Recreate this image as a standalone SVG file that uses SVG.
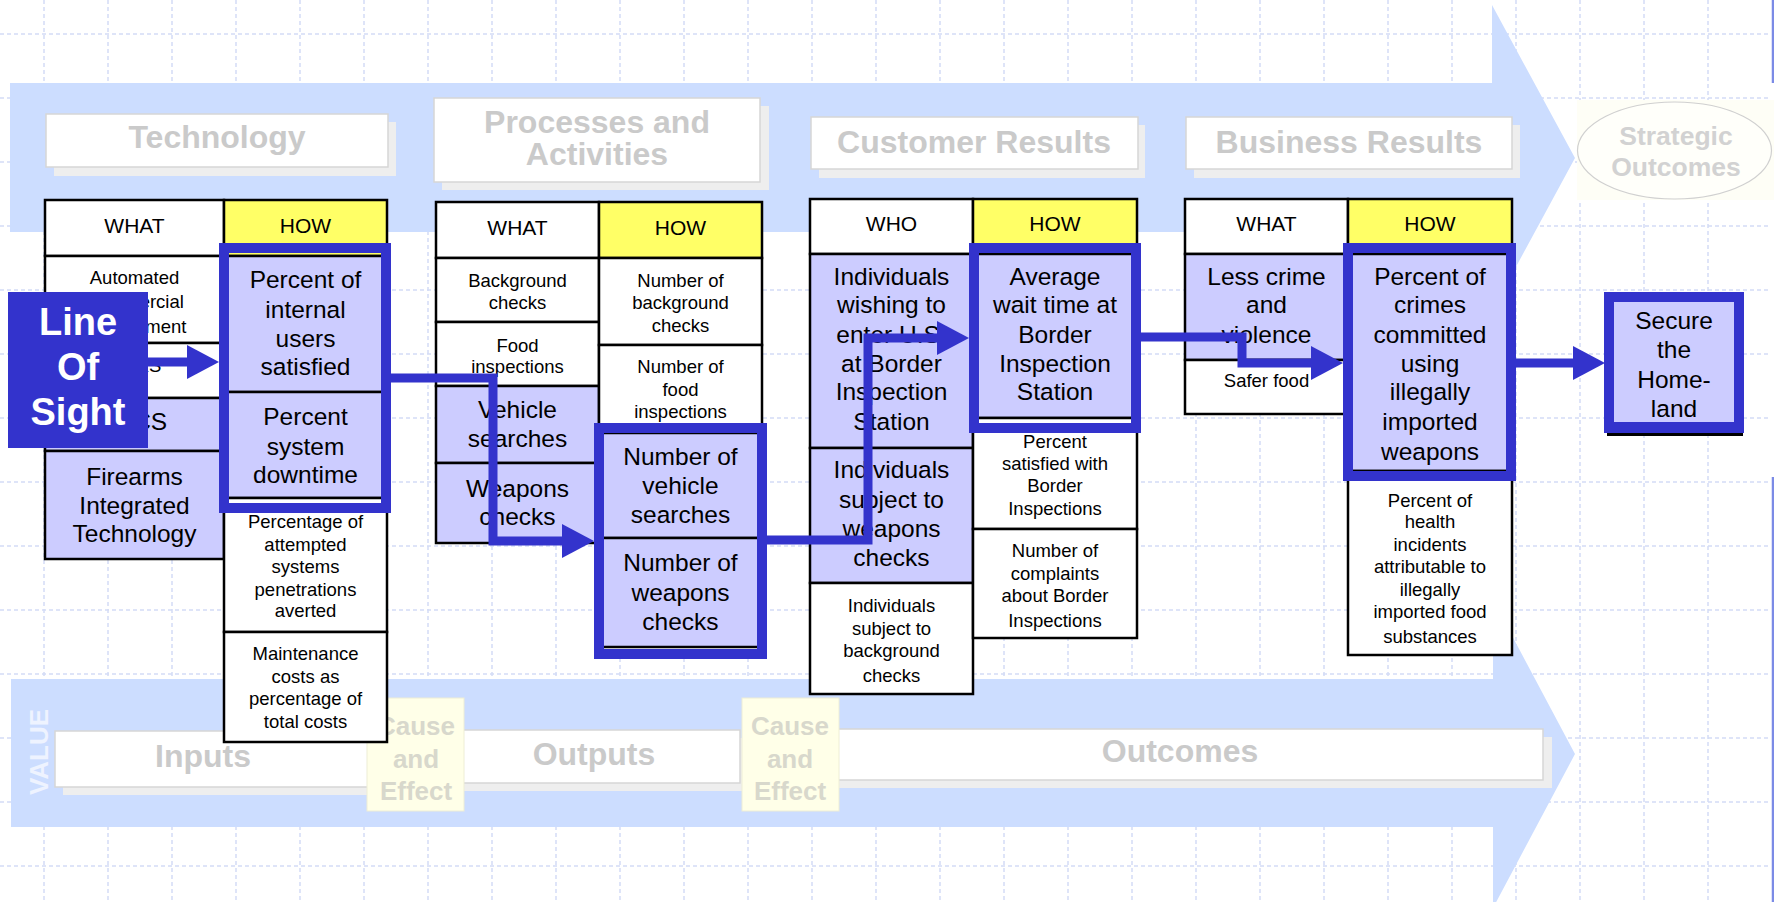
<svg xmlns="http://www.w3.org/2000/svg" width="1774" height="902" viewBox="0 0 1774 902">
<defs>
<style>
text{font-family:"Liberation Sans",Arial,sans-serif;text-anchor:middle}
.grid{stroke:#D4DCF6;stroke-width:1.5;stroke-dasharray:4 3;fill:none}
.band{fill:#CCDDFF}
.hbox{fill:#fff;stroke:#D6D6D6;stroke-width:1.5}
.hshadow{fill:#EEEEEE}
.htxt{font-size:32px;font-weight:bold;fill:#CACACA}
.ce{fill:#FFFFE8;stroke:#EEEED6;stroke-width:1}
.cetxt{font-size:26px;font-weight:bold;fill:#D8D8CC}
.cell{fill:#fff;stroke:#000;stroke-width:2.5}
.lav{fill:#CCCCFF;stroke:#000;stroke-width:2.5}
.yel{fill:#FFFF66;stroke:#000;stroke-width:2.5}
.hdr{font-size:21px;fill:#000}
.big{font-size:24.5px;fill:#000}
.sm{font-size:18.5px;fill:#000}
.hl{fill:none;stroke:#3333CC;stroke-width:10}
.conn{fill:none;stroke:#3333CC;stroke-width:9}
.los{fill:#fff;font-size:38px;font-weight:bold}
</style>
<marker id="ah" markerUnits="userSpaceOnUse" markerWidth="32" markerHeight="34" refX="0" refY="17" orient="auto" viewBox="0 0 32 34"><path d="M0,0 L32,17 L0,34 Z" fill="#3333CC"/></marker>
</defs>
<rect width="1774" height="902" fill="#fff"/>
<g id="grid">
<path class="grid" d="M44,0V902M108,0V902M172,0V902M236,0V902M300,0V902M364,0V902M428,0V902M492,0V902M556,0V902M620,0V902M684,0V902M748,0V902M812,0V902M876,0V902M940,0V902M1004,0V902M1068,0V902M1132,0V902M1196,0V902M1260,0V902M1324,0V902M1388,0V902M1452,0V902M1516,0V902M1580,0V902M1644,0V902M1708,0V902M0,34H1770M0,98H1770M0,162H1770M0,226H1770M0,290H1770M0,354H1770M0,418H1770M0,482H1770M0,546H1770M0,610H1770M0,674H1770M0,738H1770M0,802H1770M0,866H1770"/>
<path d="M1773,0V83M1773,477V902" stroke="#7B8BE6" stroke-width="2.5" fill="none"/>
</g>
<g id="bands">
<path class="band" d="M10,83 H1492 V5 L1575,158 L1492,311 V232 H10 Z"/>
<path class="band" d="M11,679 H1493 V600 L1575,754 L1493,908 V827 H11 Z"/>
</g>
<g id="heading-technology">
<rect class="hshadow" x="54" y="122" width="342" height="54"/>
<rect class="hbox" x="46" y="114" width="342" height="53"/>
<text class="htxt" x="217" y="148">Technology</text>
</g>
<g id="heading-processes">
<rect class="hshadow" x="442" y="106" width="327" height="84"/>
<rect class="hbox" x="434" y="98" width="326" height="84"/>
<text class="htxt" x="597" y="133">Processes and</text>
<text class="htxt" x="597" y="165">Activities</text>
</g>
<g id="heading-customer">
<rect class="hshadow" x="819" y="125" width="326" height="53"/>
<rect class="hbox" x="811" y="117" width="327" height="52"/>
<text class="htxt" x="974" y="153">Customer Results</text>
</g>
<g id="heading-business">
<rect class="hshadow" x="1194" y="125" width="326" height="53"/>
<rect class="hbox" x="1186" y="117" width="326" height="52"/>
<text class="htxt" x="1349" y="153">Business Results</text>
</g>
<g id="heading-strategic">
<rect x="1577" y="100" width="197" height="100" fill="#FEFEF6"/>
<ellipse cx="1674.5" cy="150.5" rx="97" ry="48.5" fill="#FFFFFA" stroke="#D0D0D0" stroke-width="1.2"/>
<text x="1676" y="145" font-size="26.5" font-weight="bold" fill="#D2D2D2">Strategic</text>
<text x="1676" y="176" font-size="26.5" font-weight="bold" fill="#D2D2D2">Outcomes</text>
</g>
<g id="band-inputs">
<rect class="hshadow" x="63" y="739" width="320" height="56"/>
<rect class="hbox" x="55" y="731" width="320" height="56"/>
<text class="htxt" x="203" y="767">Inputs</text>
</g>
<g id="band-outputs">
<rect class="hshadow" x="458" y="738" width="290" height="53"/>
<rect class="hbox" x="450" y="730" width="290" height="53"/>
<text class="htxt" x="594" y="765">Outputs</text>
</g>
<g id="band-outcomes">
<rect class="hshadow" x="826" y="737" width="726" height="51"/>
<rect class="hbox" x="818" y="729" width="725" height="51"/>
<text class="htxt" x="1180" y="762">Outcomes</text>
</g>
<g id="cause-effect-1">
<rect class="ce" x="367" y="698" width="97" height="113"/>
<text class="cetxt" x="416" y="735">Cause</text>
<text class="cetxt" x="416" y="768">and</text>
<text class="cetxt" x="416" y="800">Effect</text>
</g>
<g id="cause-effect-2">
<rect class="ce" x="742" y="698" width="97" height="113"/>
<text class="cetxt" x="790" y="735">Cause</text>
<text class="cetxt" x="790" y="768">and</text>
<text class="cetxt" x="790" y="800">Effect</text>
</g>
<g id="value-label">
<text x="39" y="761" font-size="26" font-weight="bold" fill="#EEF3FF" transform="rotate(-90 39 752)">VALUE</text>
</g>
<g id="table-technology">
<rect class="cell" x="45" y="200" width="179" height="56"/>
<rect class="yel" x="224" y="200" width="163" height="56"/>
<text class="hdr" x="134.5" y="233">WHAT</text>
<text class="hdr" x="305.5" y="233">HOW</text>
<rect class="cell" x="45" y="256" width="179" height="87"/>
<rect class="cell" x="45" y="343" width="179" height="55"/>
<rect class="lav" x="45" y="398" width="179" height="53"/>
<rect class="lav" x="45" y="451" width="179" height="108"/>
<text class="sm" x="134.5" y="284">Automated</text>
<text class="sm" x="134.5" y="308">Commercial</text>
<text class="sm" x="134.5" y="333">Environment</text>
<text class="sm" x="134.5" y="372">LINKS</text>
<text class="big" x="134.5" y="430">TECS</text>
<text class="big" x="134.5" y="485">Firearms</text>
<text class="big" x="134.5" y="514">Integrated</text>
<text class="big" x="134.5" y="542">Technology</text>
<rect class="lav" x="224" y="256" width="163" height="136"/>
<rect class="lav" x="224" y="392" width="163" height="106"/>
<rect class="cell" x="224" y="498" width="163" height="134"/>
<rect class="cell" x="224" y="632" width="163" height="110"/>
<text class="big" x="305.5" y="288">Percent of</text>
<text class="big" x="305.5" y="318">internal</text>
<text class="big" x="305.5" y="347">users</text>
<text class="big" x="305.5" y="375">satisfied</text>
<text class="big" x="305.5" y="425">Percent</text>
<text class="big" x="305.5" y="455">system</text>
<text class="big" x="305.5" y="483">downtime</text>
<text class="sm" x="305.5" y="528">Percentage of</text>
<text class="sm" x="305.5" y="551">attempted</text>
<text class="sm" x="305.5" y="573">systems</text>
<text class="sm" x="305.5" y="596">penetrations</text>
<text class="sm" x="305.5" y="617">averted</text>
<text class="sm" x="305.5" y="660">Maintenance</text>
<text class="sm" x="305.5" y="683">costs as</text>
<text class="sm" x="305.5" y="705">percentage of</text>
<text class="sm" x="305.5" y="728">total costs</text>
<rect class="hl" x="224" y="248" width="162" height="260"/>
</g>
<g id="table-processes">
<rect class="cell" x="436" y="202" width="163" height="56"/>
<rect class="yel" x="599" y="202" width="163" height="56"/>
<text class="hdr" x="517.5" y="235">WHAT</text>
<text class="hdr" x="680.5" y="235">HOW</text>
<rect class="cell" x="436" y="258" width="163" height="64"/>
<rect class="cell" x="436" y="322" width="163" height="64"/>
<rect class="lav" x="436" y="386" width="163" height="77"/>
<rect class="lav" x="436" y="463" width="163" height="80"/>
<text class="sm" x="517.5" y="287">Background</text>
<text class="sm" x="517.5" y="309">checks</text>
<text class="sm" x="517.5" y="352">Food</text>
<text class="sm" x="517.5" y="373">inspections</text>
<text class="big" x="517.5" y="418">Vehicle</text>
<text class="big" x="517.5" y="447">searches</text>
<text class="big" x="517.5" y="497">Weapons</text>
<text class="big" x="517.5" y="525">checks</text>
<rect class="cell" x="599" y="258" width="163" height="87"/>
<rect class="cell" x="599" y="345" width="163" height="88"/>
<rect class="lav" x="599" y="433" width="163" height="105"/>
<rect class="lav" x="599" y="538" width="163" height="109"/>
<text class="sm" x="680.5" y="287">Number of</text>
<text class="sm" x="680.5" y="309">background</text>
<text class="sm" x="680.5" y="332">checks</text>
<text class="sm" x="680.5" y="373">Number of</text>
<text class="sm" x="680.5" y="396">food</text>
<text class="sm" x="680.5" y="418">inspections</text>
<text class="big" x="680.5" y="465">Number of</text>
<text class="big" x="680.5" y="494">vehicle</text>
<text class="big" x="680.5" y="523">searches</text>
<text class="big" x="680.5" y="571">Number of</text>
<text class="big" x="680.5" y="601">weapons</text>
<text class="big" x="680.5" y="630">checks</text>
<rect class="hl" x="599" y="428" width="163" height="226"/>
</g>
<g id="table-customer">
<rect class="cell" x="810" y="199" width="163" height="55"/>
<rect class="yel" x="973" y="199" width="164" height="55"/>
<text class="hdr" x="891.5" y="231">WHO</text>
<text class="hdr" x="1055" y="231">HOW</text>
<rect class="lav" x="810" y="254" width="163" height="194"/>
<rect class="lav" x="810" y="448" width="163" height="135"/>
<rect class="cell" x="810" y="583" width="163" height="111"/>
<text class="big" x="891.5" y="285">Individuals</text>
<text class="big" x="891.5" y="313">wishing to</text>
<text class="big" x="891.5" y="343">enter U.S.</text>
<text class="big" x="891.5" y="372">at Border</text>
<text class="big" x="891.5" y="400">Inspection</text>
<text class="big" x="891.5" y="430">Station</text>
<text class="big" x="891.5" y="478">Individuals</text>
<text class="big" x="891.5" y="508">subject to</text>
<text class="big" x="891.5" y="537">weapons</text>
<text class="big" x="891.5" y="566">checks</text>
<text class="sm" x="891.5" y="612">Individuals</text>
<text class="sm" x="891.5" y="635">subject to</text>
<text class="sm" x="891.5" y="657">background</text>
<text class="sm" x="891.5" y="682">checks</text>
<rect class="lav" x="973" y="254" width="164" height="164"/>
<rect class="cell" x="973" y="418" width="164" height="111"/>
<rect class="cell" x="973" y="529" width="164" height="109"/>
<text class="big" x="1055" y="285">Average</text>
<text class="big" x="1055" y="313">wait time at</text>
<text class="big" x="1055" y="343">Border</text>
<text class="big" x="1055" y="372">Inspection</text>
<text class="big" x="1055" y="400">Station</text>
<text class="sm" x="1055" y="448">Percent</text>
<text class="sm" x="1055" y="470">satisfied with</text>
<text class="sm" x="1055" y="492">Border</text>
<text class="sm" x="1055" y="515">Inspections</text>
<text class="sm" x="1055" y="557">Number of</text>
<text class="sm" x="1055" y="580">complaints</text>
<text class="sm" x="1055" y="602">about Border</text>
<text class="sm" x="1055" y="627">Inspections</text>
<rect class="hl" x="974" y="248" width="162" height="180"/>
</g>
<g id="table-business">
<rect class="cell" x="1185" y="199" width="163" height="55"/>
<rect class="yel" x="1348" y="199" width="164" height="55"/>
<text class="hdr" x="1266.5" y="231">WHAT</text>
<text class="hdr" x="1430" y="231">HOW</text>
<rect class="lav" x="1185" y="254" width="163" height="106"/>
<rect class="cell" x="1185" y="360" width="163" height="54"/>
<text class="big" x="1266.5" y="285">Less crime</text>
<text class="big" x="1266.5" y="313">and</text>
<text class="big" x="1266.5" y="343">violence</text>
<text class="sm" x="1266.5" y="387">Safer food</text>
<rect class="lav" x="1348" y="254" width="164" height="217"/>
<rect class="cell" x="1348" y="471" width="164" height="184"/>
<text class="big" x="1430" y="285">Percent of</text>
<text class="big" x="1430" y="313">crimes</text>
<text class="big" x="1430" y="343">committed</text>
<text class="big" x="1430" y="372">using</text>
<text class="big" x="1430" y="400">illegally</text>
<text class="big" x="1430" y="430">imported</text>
<text class="big" x="1430" y="460">weapons</text>
<text class="sm" x="1430" y="507">Percent of</text>
<text class="sm" x="1430" y="528">health</text>
<text class="sm" x="1430" y="551">incidents</text>
<text class="sm" x="1430" y="573">attributable to</text>
<text class="sm" x="1430" y="596">illegally</text>
<text class="sm" x="1430" y="618">imported food</text>
<text class="sm" x="1430" y="643">substances</text>
<rect class="hl" x="1348" y="248" width="163" height="228"/>
</g>
<g id="node-secure-homeland">
<rect x="1607" y="296" width="136" height="140" fill="#000"/>
<rect x="1604" y="292" width="140" height="141" fill="#3333CC"/>
<rect x="1614" y="302" width="120" height="120" fill="#CCCCFF"/>
<text class="big" x="1674" y="329">Secure</text>
<text class="big" x="1674" y="358">the</text>
<text class="big" x="1674" y="388">Home-</text>
<text class="big" x="1674" y="417">land</text>
</g>
<g id="connectors">
<path class="conn" d="M148,362 H187" marker-end="url(#ah)"/>
<path class="conn" d="M391,378 H493 V541 H562" marker-end="url(#ah)"/>
<path class="conn" d="M767,540 H868 V338 H937" marker-end="url(#ah)"/>
<path class="conn" d="M1141,337 H1242 V363 H1311" marker-end="url(#ah)"/>
<path class="conn" d="M1516,363 H1573" marker-end="url(#ah)"/>
</g>
<g id="node-line-of-sight">
<rect x="8" y="292" width="140" height="156" fill="#3333CC"/>
<text class="los" x="78" y="335">Line</text>
<text class="los" x="78" y="380">Of</text>
<text class="los" x="78" y="425">Sight</text>
</g>
</svg>
